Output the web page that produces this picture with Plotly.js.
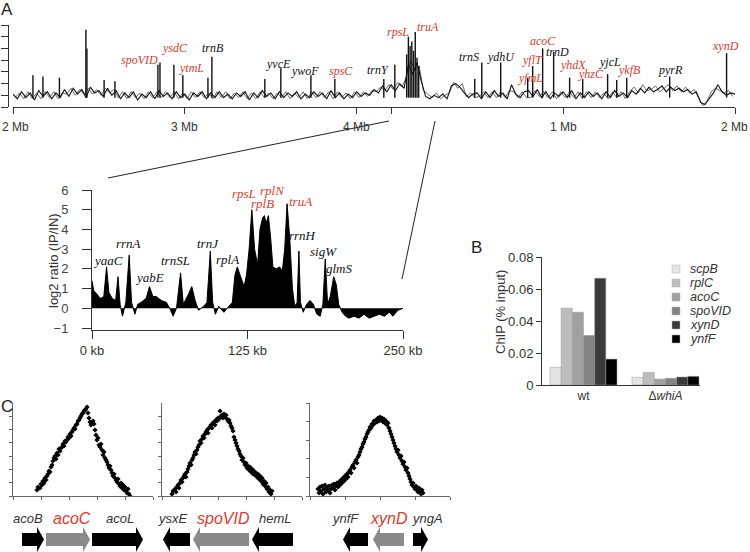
<!DOCTYPE html>
<html>
<head>
<meta charset="utf-8">
<script src="https://cdn.plot.ly/plotly-3.0.1.min.js"></script>
<style>
  html, body { margin: 0; padding: 0; background: #fff; }
  #chart { width: 750px; height: 552px; }
</style>
</head>
<body>
<div id="chart"></div>
<script>
// ---- panel A, genome-wide trace (x in Mb from the 2 Mb start, y in log2 units) ----
const genomeStep = 0.025;
const genomeNoise = [
  0.1,-0.3,0.3,-0.2,0.2,-0.4,0.4,-0.1,0.3,-0.3,0.2,-0.2,
  0.5,-0.1,0.6,0.1,0.5,-0.2,0.7,0.2,0.4,-0.1,0.6,0.0,
  0.4,-0.3,0.2,-0.2,0.3,-0.4,0.1,-0.2,0.3,-0.3,0.4,-0.1,
  0.2,-0.3,0.3,-0.2,0.1,-0.4,0.2,-0.1,0.3,-0.3,0.2,-0.2,
  0.3,-0.2,0.1,-0.3,0.2,-0.1,0.3,-0.4,0.2,-0.2,0.4,-0.1,
  0.2,-0.3,0.3,-0.2,0.2,-0.1,0.3,-0.3,0.1,-0.2,0.3,-0.1,
  0.2,-0.3,0.4,-0.2,0.2,-0.3,0.1,-0.2,0.3,-0.1,0.2,0.0,
  0.5,0.2,0.8,0.3,0.9,0.4,1.0,0.6,
  2.6,1.8,2.8,1.2,
  -0.1,-0.3,0.0,-0.2,0.1,-0.3,0.8,1.0,0.7,0.2,-0.2,0.1,
  0.2,-0.3,0.3,-0.2,0.4,-0.1,0.2,-0.3,0.9,0.1,-0.2,0.3,
  0.4,-0.1,0.5,-0.2,0.3,-0.3,0.2,-0.1,0.3,-0.2,0.4,-0.3,
  0.2,-0.2,0.3,-0.1,0.2,-0.3,0.3,-0.2,0.4,-0.1,0.2,-0.2,
  0.4,0.1,0.6,0.2,0.7,0.3,0.5,0.8,0.3,0.7,0.4,0.6,
  0.3,0.5,0.1,0.3,-0.6,-0.8,-0.3,0.2,0.9,0.3,0.0,0.2,0.1
];
// second (grey) replicate, read half-way between the samples above
const genomeNoiseRep = [
  -0.2,0.2,-0.3,0.3,-0.3,0.2,-0.3,0.3,-0.2,0.3,-0.3,0.2,
  0.1,0.6,0.0,0.5,0.1,0.6,0.1,0.5,0.0,0.6,0.2,0.5,
  -0.2,0.3,-0.3,0.3,-0.2,0.2,-0.3,0.3,-0.2,0.3,-0.2,0.3,
  -0.2,0.3,-0.3,0.2,-0.3,0.3,-0.2,0.3,-0.2,0.2,-0.3,0.3,
  -0.2,0.3,-0.3,0.2,-0.2,0.3,-0.3,0.2,-0.3,0.3,-0.2,0.2,
  -0.3,0.2,-0.2,0.3,-0.3,0.2,-0.2,0.3,-0.3,0.3,-0.2,0.3,
  -0.2,0.3,-0.3,0.3,-0.2,0.2,-0.3,0.3,-0.2,0.3,-0.1,0.4,
  0.3,0.7,0.4,0.9,0.5,1.1,0.7,1.5,
  3.0,2.2,2.5,0.4,
  0.1,-0.2,0.2,-0.3,0.0,0.2,1.1,0.6,1.0,-0.1,0.2,-0.2,
  -0.1,0.3,-0.2,0.3,-0.2,0.3,-0.2,0.4,0.3,-0.2,0.3,-0.2,
  -0.2,0.4,-0.1,0.3,-0.2,0.3,-0.3,0.3,-0.2,0.3,-0.2,0.3,
  -0.3,0.3,-0.2,0.3,-0.2,0.2,-0.3,0.3,-0.2,0.3,-0.3,0.3,
  0.7,0.2,0.9,0.4,0.5,0.8,0.3,0.6,0.9,0.4,0.8,0.3,
  0.7,0.2,0.5,-0.2,-0.9,-0.5,0.3,0.6,0.4,0.2,0.4,-0.1
];
const spikePos = [0.116,0.174,0.27,0.424,0.43,0.53,0.593,0.843,0.855,0.936,0.988,1.134,1.157,
  1.465,1.558,1.733,1.872,2.157,2.221,2.29,2.30,2.31,2.32,2.33,2.34,2.35,2.36,2.686,2.727,
  2.837,2.994,3.023,3.081,3.145,3.238,3.314,3.459,3.512,3.570,3.820,4.151];
const spikeHeight = [1.7,1.6,1.5,5.6,4.0,1.3,1.2,2.6,2.8,2.6,1.7,1.5,3.3,
  1.4,2.3,1.7,1.4,1.4,2.6,3.5,5.0,4.2,4.6,3.8,5.4,3.2,2.5,1.4,2.8,
  2.8,1.5,2.5,4.0,3.7,1.5,1.4,1.8,1.3,1.5,1.6,3.6];
const genomeTickVals = [0, 1, 2, 2.2, 3.2, 4.2];
const genomeTickText = ['2 Mb', '3 Mb', '4 Mb', '', '1 Mb', '2 Mb'];
const genomeLabels = ['scpB','spoVID','ysdC','ytmL','trnB','yvcE','ywoF','spsC','trnY','rpsL','truA',
  'trnS','ydhU','acoC','yflT','trnD','yfmL','yhdX','yhzC','yjcL','ykfB','pyrR','xynD'];
const genomeLabelX = [0.424,0.738,0.942,1.041,1.163,1.547,1.698,1.907,2.122,2.238,2.413,
  2.651,2.837,3.081,3.023,3.169,3.012,3.256,3.360,3.471,3.587,3.826,4.145];
const genomeLabelY = [6.4,3.0,4.0,2.3,4.0,2.7,2.1,2.1,2.2,5.4,5.8,
  3.3,3.3,4.6,3.0,3.7,1.5,2.6,1.8,2.8,2.2,2.2,4.2];
const genomeLabelRed = [0,1,1,1,0,0,0,1,0,1,1,0,0,1,1,0,1,1,1,0,1,0,1];

// ---- panel A, 250 kb zoom ----
const insetKb = [0,1.4,4.1,6.8,9.5,11.7,13.6,16.3,19.0,20.9,22.6,24.5,27.2,29.9,31.8,34.5,36.7,39.4,43.5,46.2,
  48.9,51.6,55.7,59.8,62.5,65.2,67.9,71.2,73.4,77.4,80.2,82.9,85.6,89.7,92.4,95.1,97.0,99.2,101.9,106.0,
  110.0,112.8,114.9,116.8,119.5,122.3,124.2,126.3,128.5,130.7,133.1,135.0,137.2,138.6,139.9,141.8,143.7,145.4,148.1,150.8,
  153.0,154.9,156.8,159.0,161.1,163.0,164.9,166.3,167.6,169.8,172.5,175.2,178.0,180.7,183.4,185.6,187.5,189.4,191.5,194.3,
  196.4,198.3,201.1,203.8,206.5,210.6,214.6,218.7,222.8,226.9,231.0,235.0,239.1,241.8,245.9,250];
const insetLog2 = [1.4,0.9,0.7,0.5,0.6,2.1,0.8,0.5,0.4,1.6,0.2,-0.4,0.3,2.7,0.3,-0.3,0.2,0.3,0.5,1.1,
  0.6,0.6,0.4,0.3,0.0,-0.4,0.0,1.8,0.2,0.7,1.1,0.4,-0.1,0.1,0.3,2.9,0.3,-0.3,0.1,-0.2,
  0.1,0.3,1.7,2.1,1.6,1.1,1.7,3.0,5.0,3.0,2.2,4.0,4.6,4.7,4.3,4.7,3.5,2.1,2.0,2.1,
  1.9,3.0,5.3,3.5,1.0,0.1,0.3,2.9,0.3,-0.2,0.2,0.4,0.2,-0.3,-0.4,0.2,2.5,0.2,0.6,1.6,
  1.2,0.2,-0.2,-0.4,-0.5,-0.4,-0.5,-0.3,-0.5,-0.4,-0.3,-0.4,-0.2,-0.4,-0.1,0.0];
const insetLabels = ['yaaC','rrnA','yabE','trnSL','trnJ','rplA','rpsL','rplB','rplN','truA','rrnH','sigW','glmS'];
const insetLabelX = [12.9,29.7,46.6,67.5,93.3,109.3,122.2,136.7,144.7,168.0,169.6,185.7,198.6];
const insetLabelY = [2.4,3.3,1.55,2.45,3.3,2.5,5.8,5.3,6.0,5.4,3.7,2.9,2.0];
const insetLabelRed = [0,0,0,0,0,0,1,1,1,1,0,0,0];

// ---- panel B ----
const strains = ['wt', 'Δ<i>whiA</i>'];
const chipGenes = ['scpB', 'rplC', 'acoC', 'spoVID', 'xynD', 'ynfF'];
const chipWt = [0.011, 0.048, 0.0455, 0.031, 0.0667, 0.0162];
const chipWhiA = [0.0048, 0.0079, 0.0037, 0.0042, 0.0050, 0.0054];
const chipColors = ['#e4e4e4', '#bdbdbd', '#a0a0a0', '#838383', '#3a3a3a', '#000000'];

// ---- panel C (x: position bins, y: enrichment) ----
const acoCX = [24,25,27,28,29,30,31,32,33,34,35,36,37,38,39,40,41,42,43,44,45,46,47,48,49,50,51,52,53,54,55,56,57,58,59,60,61,62,63,64,65,66,67,68,69,70,71,72,73,74,
  75,76,77,78,79,80,81,82,83,84,85,86,87,88,89,90,91,92,93,94,95,96,97,98,99,100,101,102,103,104,105,106,107,108,109,110,111,112,113,114,115,116,117];
const acoCY = [6,9,8,12,11,15,13,18,16,20,22,25,24,29,31,35,38,40,37,43,41,47,45,48,49,52,50,55,54,56,59,58,62,60,64,66,68,67,71,72,75,76,78,80,82,83,85,86,87,89,
  83,78,74,71,73,75,72,66,61,56,58,51,49,52,46,41,44,38,36,34,31,28,30,26,23,20,22,18,16,14,17,12,10,13,8,11,6,9,5,3,7,2,0];
const spoVIDX = [10,11,13,14,15,16,17,18,19,20,21,22,23,24,25,26,27,28,29,30,31,32,33,34,35,36,37,38,39,40,41,42,43,44,45,46,47,48,49,50,
  51,52,53,54,55,56,57,58,59,60,61,62,63,64,65,66,67,68,69,70,71,72,73,74,75,76,77,78,79,80,81,82,83,84,85,86,87,88,89,90,
  91,92,93,94,95,96,97,98,99,100,101,102,103,104,105,106,107,108,109,110];
const spoVIDY = [2,5,7,4,9,11,8,13,16,14,18,20,22,19,24,27,30,33,31,36,38,41,44,42,46,49,51,55,53,57,60,58,62,64,66,63,68,69,71,68,
  73,74,71,76,75,78,77,85,80,81,78,82,79,81,77,75,76,73,70,68,65,59,56,53,50,47,45,42,40,36,38,34,31,33,28,30,26,29,24,27,
  22,25,21,23,19,22,17,20,15,18,12,15,10,13,7,9,4,6,2,5];
const xynDX = [8,9,10,11,12,13,14,15,16,17,18,19,20,21,22,23,24,25,26,27,28,29,30,31,32,33,34,35,36,37,38,39,40,41,42,43,44,45,46,47,
  48,49,50,51,52,53,54,55,56,57,58,59,60,61,62,63,64,65,66,67,68,69,70,71,72,73,74,75,76,77,78,79,80,81,82,83,84,85,86,87,
  88,89,90,91,92,93,94,95,96,97,98,99,100,101,102,103,104,105,106,107,108,109,110,111,112,113];
const xynDY = [7,3,9,5,10,2,7,11,4,8,6,10,3,7,11,8,12,6,10,13,9,14,11,16,13,18,15,20,17,22,19,24,26,23,29,31,28,34,36,33,
  39,41,44,47,49,52,54,57,59,62,64,66,69,68,72,71,75,73,76,74,78,75,79,76,78,74,77,73,75,71,73,68,65,62,59,56,53,50,47,44,
  46,41,38,40,35,32,34,29,26,28,23,20,17,14,11,13,9,7,10,6,4,8,5,2,6,3];
const geneNames = [['acoB','acoC','acoL'], ['ysxE','spoVID','hemL'], ['ynfF','xynD','yngA']];
const geneStart = [[9,33,79], [1,31,90], [33,63,103]];
const geneEnd = [[31,77,130], [28,87,131], [58,94,118]];
const geneStrand = [[1,1,1], [-1,-1,-1], [-1,-1,1]];
const geneLabelAt = [[15,59,107], [11,61,113], [35,79,117]];

// ---- helpers ----
const W = 750, H = 552;
const px = v => v / W;
const py = v => 1 - v / H;
const RED = '#e3392b';
const SANS = 'Liberation Sans, Arial, sans-serif';
const SERIF = 'Liberation Serif, Times New Roman, serif';

const traces = [];

// genome traces: grey replicate underneath, black on top
traces.push({
  x: genomeNoiseRep.map((_, i) => i * genomeStep + genomeStep / 2), y: genomeNoiseRep,
  type: 'scatter', mode: 'lines', xaxis: 'x', yaxis: 'y',
  line: {color: '#6a6a6a', width: 1, simplify: false}, hoverinfo: 'skip'
});
traces.push({
  x: genomeNoise.map((_, i) => i * genomeStep), y: genomeNoise,
  type: 'scatter', mode: 'lines', xaxis: 'x', yaxis: 'y',
  line: {color: '#111', width: 1.1, simplify: false}, hoverinfo: 'skip'
});
const spikeX = [], spikeY = [];
spikePos.forEach((p, i) => { spikeX.push(p, p, null); spikeY.push(-0.2, spikeHeight[i], null); });
traces.push({
  x: spikeX, y: spikeY, type: 'scatter', mode: 'lines', xaxis: 'x', yaxis: 'y',
  line: {color: '#111', width: 1.4, simplify: false}, hoverinfo: 'skip'
});

// inset
traces.push({
  x: insetKb, y: insetLog2, type: 'scatter', mode: 'lines', fill: 'tozeroy',
  fillcolor: '#000', line: {color: '#000', width: 1, simplify: false}, xaxis: 'x2', yaxis: 'y2'
});

// bars
chipGenes.forEach((g, i) => {
  traces.push({
    x: strains, y: [chipWt[i], chipWhiA[i]], type: 'bar', name: g,
    marker: {color: chipColors[i], line: {color: '#9a9a9a', width: 0.5}},
    xaxis: 'x3', yaxis: 'y3'
  });
});

// scatter profiles
[[acoCX, acoCY], [spoVIDX, spoVIDY], [xynDX, xynDY]].forEach((d, k) => {
  traces.push({
    x: d[0], y: d[1], type: 'scatter', mode: 'markers',
    marker: {symbol: 'diamond', size: 4, color: '#000'},
    xaxis: 'x' + (k + 4), yaxis: 'y' + (k + 4)
  });
});

const annotations = [];
const shapes = [];
const paperText = (text, x, y, font, extra) => Object.assign({
  text: text, x: px(x), y: py(y), xref: 'paper', yref: 'paper', showarrow: false,
  xanchor: 'center', yanchor: 'middle', font: font
}, extra || {});

// panel letters
[['A', 7, 10], ['B', 476, 247], ['C', 7, 406]].forEach(([t, x, y]) => {
  annotations.push(paperText(t, x, y, {family: SANS, size: 17, color: '#222'}));
});

// genome axis tick labels (outer ones sit flush with the figure edge)
genomeTickText.forEach((t, i) => {
  if (!t) return;
  const last = i === genomeTickText.length - 1;
  annotations.push({
    text: t, x: i === 0 ? 0 : last ? 1 : genomeTickVals[i], xref: i === 0 || last ? 'paper' : 'x',
    y: py(127), yref: 'paper', showarrow: false, yanchor: 'middle',
    xanchor: i === 0 ? 'left' : last ? 'right' : 'center',
    font: {family: SANS, size: 12, color: '#333'}
  });
});

genomeLabels.forEach((g, i) => {
  annotations.push({text: g, x: genomeLabelX[i], y: genomeLabelY[i], xref: 'x', yref: 'y', showarrow: false,
    font: {family: SERIF, size: 12, style: 'italic', color: genomeLabelRed[i] ? RED : '#111'}});
});
insetLabels.forEach((g, i) => {
  annotations.push({text: g, x: insetLabelX[i], y: insetLabelY[i], xref: 'x2', yref: 'y2', showarrow: false,
    font: {family: SERIF, size: 13, style: 'italic', color: insetLabelRed[i] ? RED : '#111'}});
});

annotations.push(paperText('log2 ratio (IP/IN)', 53, 261, {family: SANS, size: 13, color: '#333'}, {textangle: -90}));
annotations.push(paperText('ChIP (% input)', 500, 312, {family: SANS, size: 13, color: '#333'}, {textangle: -90}));

// panel B legend
chipGenes.forEach((g, i) => {
  const cy = 269 + i * 14;
  shapes.push({type: 'rect', xref: 'paper', yref: 'paper', x0: px(672), x1: px(680), y0: py(cy + 4), y1: py(cy - 4),
    fillcolor: chipColors[i], line: {color: '#b0b0b0', width: 0.5}});
  annotations.push(paperText(g, 688, cy, {family: SANS, size: 12.5, style: 'italic', color: '#333'}, {xanchor: 'left'}));
});

// zoom connector lines
shapes.push({type: 'line', xref: 'paper', yref: 'paper', x0: px(108), y0: py(178), x1: px(389), y1: py(121),
  line: {color: '#222', width: 1}});
shapes.push({type: 'line', xref: 'paper', yref: 'paper', x0: px(435), y0: py(121), x1: px(402), y1: py(279),
  line: {color: '#222', width: 1}});

// panel C gene arrows
const bodyT = py(533), bodyB = py(546), headT = py(527), headB = py(552), mid = py(539.5);
const headLen = 7;
geneNames.forEach((names, k) => {
  const xr = 'x' + (k + 4);
  names.forEach((g, j) => {
    const s = geneStart[k][j], e = geneEnd[k][j];
    let path;
    if (geneStrand[k][j] > 0) {
      const hb = e - headLen;
      path = `M${s},${bodyT} L${hb},${bodyT} L${hb},${headT} L${e},${mid} L${hb},${headB} L${hb},${bodyB} L${s},${bodyB} Z`;
    } else {
      const hb = s + headLen;
      path = `M${e},${bodyT} L${hb},${bodyT} L${hb},${headT} L${s},${mid} L${hb},${headB} L${hb},${bodyB} L${e},${bodyB} Z`;
    }
    const target = j === 1;
    shapes.push({type: 'path', xref: xr, yref: 'paper', path: path,
      fillcolor: target ? '#8a8a8a' : '#000', line: {width: 0}});
    annotations.push({text: g, x: geneLabelAt[k][j], y: py(518), xref: xr, yref: 'paper', showarrow: false,
      xanchor: 'center', yanchor: 'middle',
      font: {family: SANS, size: target ? 16 : 13, style: 'italic', color: target ? RED : '#333'}});
  });
});

const axisBase = {showgrid: false, zeroline: false, showline: true, linecolor: '#333', linewidth: 1,
  tickcolor: '#333', ticks: 'outside', fixedrange: true};

const layout = {
  width: W, height: H,
  margin: {l: 0, r: 0, t: 0, b: 0},
  paper_bgcolor: '#fff', plot_bgcolor: 'rgba(0,0,0,0)',
  showlegend: false,
  font: {family: SANS, color: '#333', size: 12},
  barmode: 'group', bargap: 0.183, bargroupgap: 0,
  xaxis: Object.assign({}, axisBase, {domain: [px(13), px(735)], range: [0, 4.2], anchor: 'y',
    tickvals: genomeTickVals, ticklen: 6, showticklabels: false}),
  yaxis: Object.assign({}, axisBase, {domain: [py(107), py(25)], range: [-1, 6], anchor: 'free',
    position: px(8), tickvals: [-1, 0, 1, 2, 3, 4, 5, 6], ticklen: 7, showticklabels: false}),
  xaxis2: Object.assign({}, axisBase, {domain: [px(92), px(403)], range: [0, 250], anchor: 'y2',
    tickvals: [0, 125, 250], ticktext: ['0 kb', '125 kb', '250 kb'], ticklen: 8,
    tickfont: {size: 13, color: '#333'}}),
  yaxis2: Object.assign({}, axisBase, {domain: [py(330), py(190)], range: [-1.1, 6], anchor: 'x2',
    tickvals: [-1, 0, 1, 2, 3, 4, 5, 6], ticklen: 9, ticklabelstandoff: 11,
    tickfont: {size: 13, color: '#444'}}),
  xaxis3: Object.assign({}, axisBase, {domain: [px(542), px(700)], type: 'category', range: [-0.506, 1.421],
    anchor: 'y3', ticks: '', tickfont: {size: 12, color: '#333'}}),
  yaxis3: Object.assign({}, axisBase, {domain: [py(385), py(257)], range: [0, 0.08], anchor: 'x3',
    tickvals: [0, 0.02, 0.04, 0.06, 0.08], ticktext: ['0', '0.02', '0.04', '0.06', '0.08'], ticklen: 5,
    tickfont: {size: 13, color: '#333'}}),
  annotations: annotations,
  shapes: shapes
};

[[13, 153, 28, 13.3], [162, 302, 28, 13.3], [310, 450, 35, 18.6]].forEach((c, k) => {
  const n = k + 4;
  layout['xaxis' + n] = Object.assign({}, axisBase, {domain: [px(c[0]), px(c[1])], range: [0, 140],
    tick0: 0, dtick: c[2], ticklen: 3, showticklabels: false, anchor: 'y' + n,
    linecolor: '#666', tickcolor: '#666'});
  layout['yaxis' + n] = Object.assign({}, axisBase, {domain: [py(496), py(403)], range: [0, 93],
    tick0: 0, dtick: c[3], ticklen: 3, showticklabels: false, anchor: 'x' + n,
    linecolor: '#666', tickcolor: '#666'});
});

Plotly.newPlot('chart', traces, layout, {displayModeBar: false, staticPlot: true});
</script>
</body>
</html>
